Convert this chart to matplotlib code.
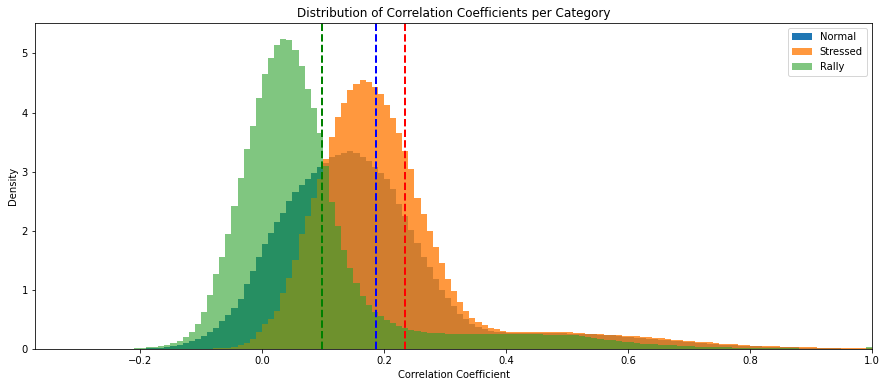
import numpy as np
import matplotlib
matplotlib.use("Agg")
import matplotlib.pyplot as plt

# Histogram bin edges (width 0.01) and density heights
bin_edges = np.round(np.arange(-0.21, 1.0001, 0.01), 3)

normal_density = [
    0.0, 0.0, 0.01, 0.015, 0.025, 0.035, 0.05, 0.07, 0.10, 0.13,
    0.17, 0.22, 0.28, 0.36, 0.47, 0.58, 0.70, 0.85, 1.10, 1.32,
    1.55, 1.78, 1.97, 2.15, 2.30, 2.50, 2.65, 2.78, 2.88, 2.98,
    3.08, 3.15, 3.25, 3.28, 3.32, 3.35, 3.32, 3.25, 3.18, 3.08,
    2.98, 2.88, 2.70, 2.45, 2.25, 2.02, 1.80, 1.55, 1.38, 1.18,
    1.00, 0.86, 0.72, 0.60, 0.50, 0.43, 0.38, 0.34, 0.31, 0.29,
    0.28, 0.275, 0.27, 0.27, 0.27, 0.27, 0.27, 0.27, 0.265, 0.265,
    0.265, 0.26, 0.26, 0.255, 0.25, 0.25, 0.245, 0.24, 0.23, 0.22,
    0.21, 0.20, 0.185, 0.18, 0.17, 0.165, 0.16, 0.145, 0.135, 0.13,
    0.12, 0.11, 0.105, 0.095, 0.085, 0.08, 0.075, 0.07, 0.062, 0.055,
    0.05, 0.048, 0.045, 0.042, 0.04, 0.037, 0.033, 0.03, 0.027, 0.025,
    0.022, 0.02, 0.017, 0.015, 0.012, 0.01, 0.008, 0.007, 0.006, 0.005,
    0.004,
]

stressed_density = [
    0.0, 0.0, 0.0, 0.0, 0.0, 0.0, 0.0, 0.0, 0.0, 0.0,
    0.0, 0.0, 0.005, 0.01, 0.015, 0.02, 0.04, 0.06, 0.10, 0.17,
    0.28, 0.42, 0.50, 0.65, 0.95, 1.20, 1.50, 1.95, 2.25, 2.55,
    2.88, 3.22, 3.58, 3.92, 4.17, 4.38, 4.48, 4.55, 4.52, 4.44,
    4.32, 4.12, 3.90, 3.66, 3.35, 3.05, 2.55, 2.28, 2.00, 1.72,
    1.45, 1.18, 0.98, 0.80, 0.64, 0.53, 0.45, 0.40, 0.36, 0.33,
    0.31, 0.29, 0.29, 0.29, 0.29, 0.285, 0.285, 0.285, 0.28, 0.28,
    0.28, 0.28, 0.275, 0.27, 0.26, 0.26, 0.25, 0.24, 0.235, 0.23,
    0.225, 0.22, 0.215, 0.21, 0.20, 0.19, 0.18, 0.17, 0.16, 0.15,
    0.14, 0.135, 0.125, 0.12, 0.11, 0.10, 0.09, 0.085, 0.08, 0.07,
    0.062, 0.056, 0.052, 0.05, 0.047, 0.043, 0.04, 0.037, 0.034, 0.03,
    0.028, 0.026, 0.024, 0.02, 0.017, 0.015, 0.013, 0.012, 0.011, 0.01,
    0.009,
]

rally_density = [
    0.01, 0.02, 0.03, 0.04, 0.05, 0.07, 0.10, 0.14, 0.20, 0.29,
    0.43, 0.63, 0.92, 1.27, 1.55, 1.95, 2.42, 2.90, 3.38, 3.78,
    4.25, 4.65, 4.92, 5.15, 5.25, 5.22, 5.05, 4.78, 4.40, 4.08,
    3.65, 3.10, 2.48, 2.08, 1.68, 1.37, 1.11, 0.90, 0.75, 0.63,
    0.55, 0.49, 0.44, 0.39, 0.35, 0.32, 0.30, 0.28, 0.27, 0.265,
    0.265, 0.26, 0.26, 0.26, 0.26, 0.26, 0.26, 0.255, 0.255, 0.255,
    0.255, 0.255, 0.25, 0.25, 0.25, 0.25, 0.25, 0.245, 0.245, 0.245,
    0.245, 0.235, 0.23, 0.22, 0.20, 0.19, 0.17, 0.16, 0.15, 0.13,
    0.12, 0.11, 0.10, 0.09, 0.085, 0.08, 0.072, 0.068, 0.06, 0.055,
    0.05, 0.045, 0.04, 0.038, 0.033, 0.03, 0.028, 0.026, 0.024, 0.02,
    0.018, 0.015, 0.013, 0.012, 0.011, 0.01, 0.01, 0.009, 0.009, 0.008,
    0.008, 0.007, 0.007, 0.006, 0.006, 0.005, 0.005, 0.005, 0.005, 0.005,
    0.035,
]

categories = ["Normal", "Stressed", "Rally"]
category_means = [0.187, 0.234, 0.099]

fig = plt.figure(figsize=(886 / 72, 387 / 72), dpi=72)
ax = fig.add_axes([35 / 886, 1 - 349 / 387, (872 - 35) / 886, (349 - 23.3) / 387])

series = [normal_density, stressed_density, rally_density]
colors = ["#1f77b4", "#ff7f0e", "#2ca02c"]
alphas = [1.0, 0.8, 0.6]
centers = (bin_edges[:-1] + bin_edges[1:]) / 2
for name, vals, col, a in zip(categories, series, colors, alphas):
    ax.hist(centers, bins=bin_edges, weights=vals, histtype="stepfilled",
            color=col, alpha=a, label=name, linewidth=0)

line_colors = ["blue", "red", "green"]
for m, lc in zip(category_means, line_colors):
    ax.axvline(m, color=lc, linestyle="--", linewidth=2)

ax.set_xlim(-0.372, 1.0)
ax.set_ylim(0, 5.51)
ax.set_title("Distribution of Correlation Coefficients per Category")
ax.set_xlabel("Correlation Coefficient")
ax.set_ylabel("Density")
ax.legend(loc="upper right")

fig.savefig("out.png", dpi=72)
